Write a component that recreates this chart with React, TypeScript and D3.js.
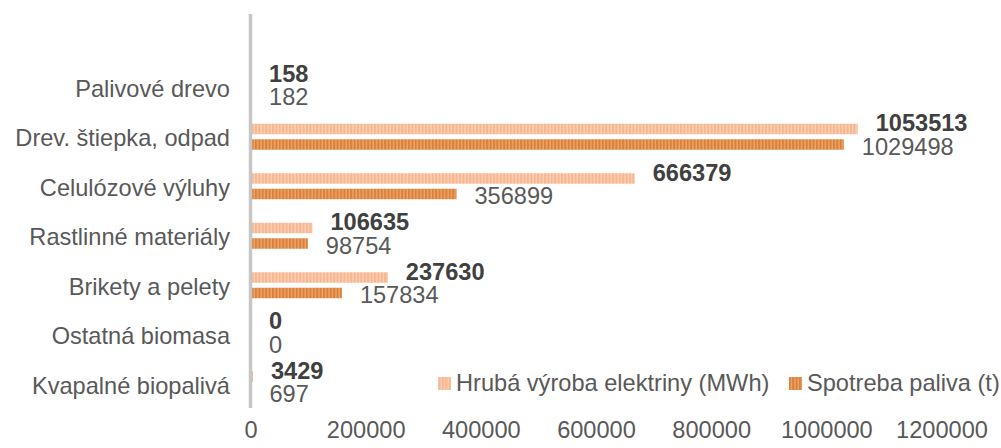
import React, { useEffect, useRef } from "react";
import * as d3 from "d3";

const categories = [
  "Palivové drevo",
  "Drev. štiepka, odpad",
  "Celulózové výluhy",
  "Rastlinné materiály",
  "Brikety a pelety",
  "Ostatná biomasa",
  "Kvapalné biopalivá",
];
const vyroba = [158, 1053513, 666379, 106635, 237630, 0, 3429];
const spotreba = [182, 1029498, 356899, 98754, 157834, 0, 697];
const xTicks = [0, 200000, 400000, 600000, 800000, 1000000, 1200000];
const seriesNames = ["Hrubá výroba elektriny (MWh)", "Spotreba paliva (t)"];

const App = () => {
  const svgRef = useRef<SVGSVGElement>(null);

  useEffect(() => {
    const svg = d3.select(svgRef.current);
    svg.selectAll("*").remove();

    const font = "'Liberation Sans', Arial, sans-serif";
    const fs = 23.6;
    const x = d3.scaleLinear().domain([0, 1200000]).range([251, 942]);
    const y = d3
      .scaleBand()
      .domain(["", ...categories])
      .range([14, 410]);

    const defs = svg.append("defs");
    const mkPattern = (id: string, base: string, stripe: string) => {
      const p = defs
        .append("pattern")
        .attr("id", id)
        .attr("patternUnits", "userSpaceOnUse")
        .attr("width", 3.4)
        .attr("height", 10);
      p.append("rect").attr("width", 3.4).attr("height", 10).attr("fill", base);
      p.append("rect").attr("x", 2).attr("width", 1.4).attr("height", 10).attr("fill", stripe);
    };
    mkPattern("pLight", "#F7B68F", "#FBD0B6");
    mkPattern("pDark", "#DC7F39", "#EBA66C");

    const center = (c: string) => (y(c) as number) + y.bandwidth() / 2;

    // bars
    svg
      .append("g")
      .selectAll("rect")
      .data(categories)
      .join("rect")
      .attr("x", x(0))
      .attr("y", (c) => center(c) - 14)
      .attr("width", (_, i) => x(vyroba[i]) - x(0))
      .attr("height", 10.5)
      .attr("fill", "url(#pLight)");

    svg
      .append("g")
      .selectAll("rect")
      .data(categories)
      .join("rect")
      .attr("x", x(0))
      .attr("y", (c) => center(c) + 1.5)
      .attr("width", (_, i) => x(spotreba[i]) - x(0))
      .attr("height", 10.5)
      .attr("fill", "url(#pDark)");

    // axis line
    svg
      .append("line")
      .attr("x1", x(0) - 0.5)
      .attr("x2", x(0) - 0.5)
      .attr("y1", 14)
      .attr("y2", 408)
      .attr("stroke", "#C6C6C6")
      .attr("stroke-width", 3.5);

    // value labels
    svg
      .append("g")
      .selectAll("text")
      .data(categories)
      .join("text")
      .attr("x", (_, i) => x(vyroba[i]) + 18)
      .attr("y", (c) => center(c) - 6.5)
      .attr("font-family", font)
      .attr("font-size", fs)
      .attr("font-weight", "bold")
      .attr("fill", "#404040")
      .text((_, i) => vyroba[i]);

    svg
      .append("g")
      .selectAll("text")
      .data(categories)
      .join("text")
      .attr("x", (_, i) => x(spotreba[i]) + 18)
      .attr("y", (c) => center(c) + 17)
      .attr("font-family", font)
      .attr("font-size", fs)
      .attr("fill", "#595959")
      .text((_, i) => spotreba[i]);

    // category labels
    svg
      .append("g")
      .selectAll("text")
      .data(categories)
      .join("text")
      .attr("x", 230)
      .attr("y", (c) => center(c) + 8.5)
      .attr("text-anchor", "end")
      .attr("font-family", font)
      .attr("font-size", fs)
      .attr("fill", "#595959")
      .text((c) => c);

    // x tick labels
    svg
      .append("g")
      .selectAll("text")
      .data(xTicks)
      .join("text")
      .attr("x", (d) => x(d))
      .attr("y", 438)
      .attr("text-anchor", "middle")
      .attr("font-family", font)
      .attr("font-size", fs)
      .attr("fill", "#595959")
      .text((d) => d);

    // legend
    const legend = svg.append("g").attr("font-family", font).attr("font-size", fs);
    const legendItems = [
      { name: seriesNames[0], fill: "url(#pLight)", x: 438 },
      { name: seriesNames[1], fill: "url(#pDark)", x: 789 },
    ];
    legendItems.forEach((d) => {
      legend
        .append("rect")
        .attr("x", d.x)
        .attr("y", 377)
        .attr("width", 13)
        .attr("height", 13)
        .attr("fill", d.fill);
      legend
        .append("text")
        .attr("x", d.x + 18)
        .attr("y", 391)
        .attr("fill", "#595959")
        .text(d.name);
    });
  }, []);

  return (
    <svg
      ref={svgRef}
      width={1001}
      height={448}
      style={{ position: "absolute", left: 0, top: 0, background: "#fff" }}
    />
  );
};

export default App;
